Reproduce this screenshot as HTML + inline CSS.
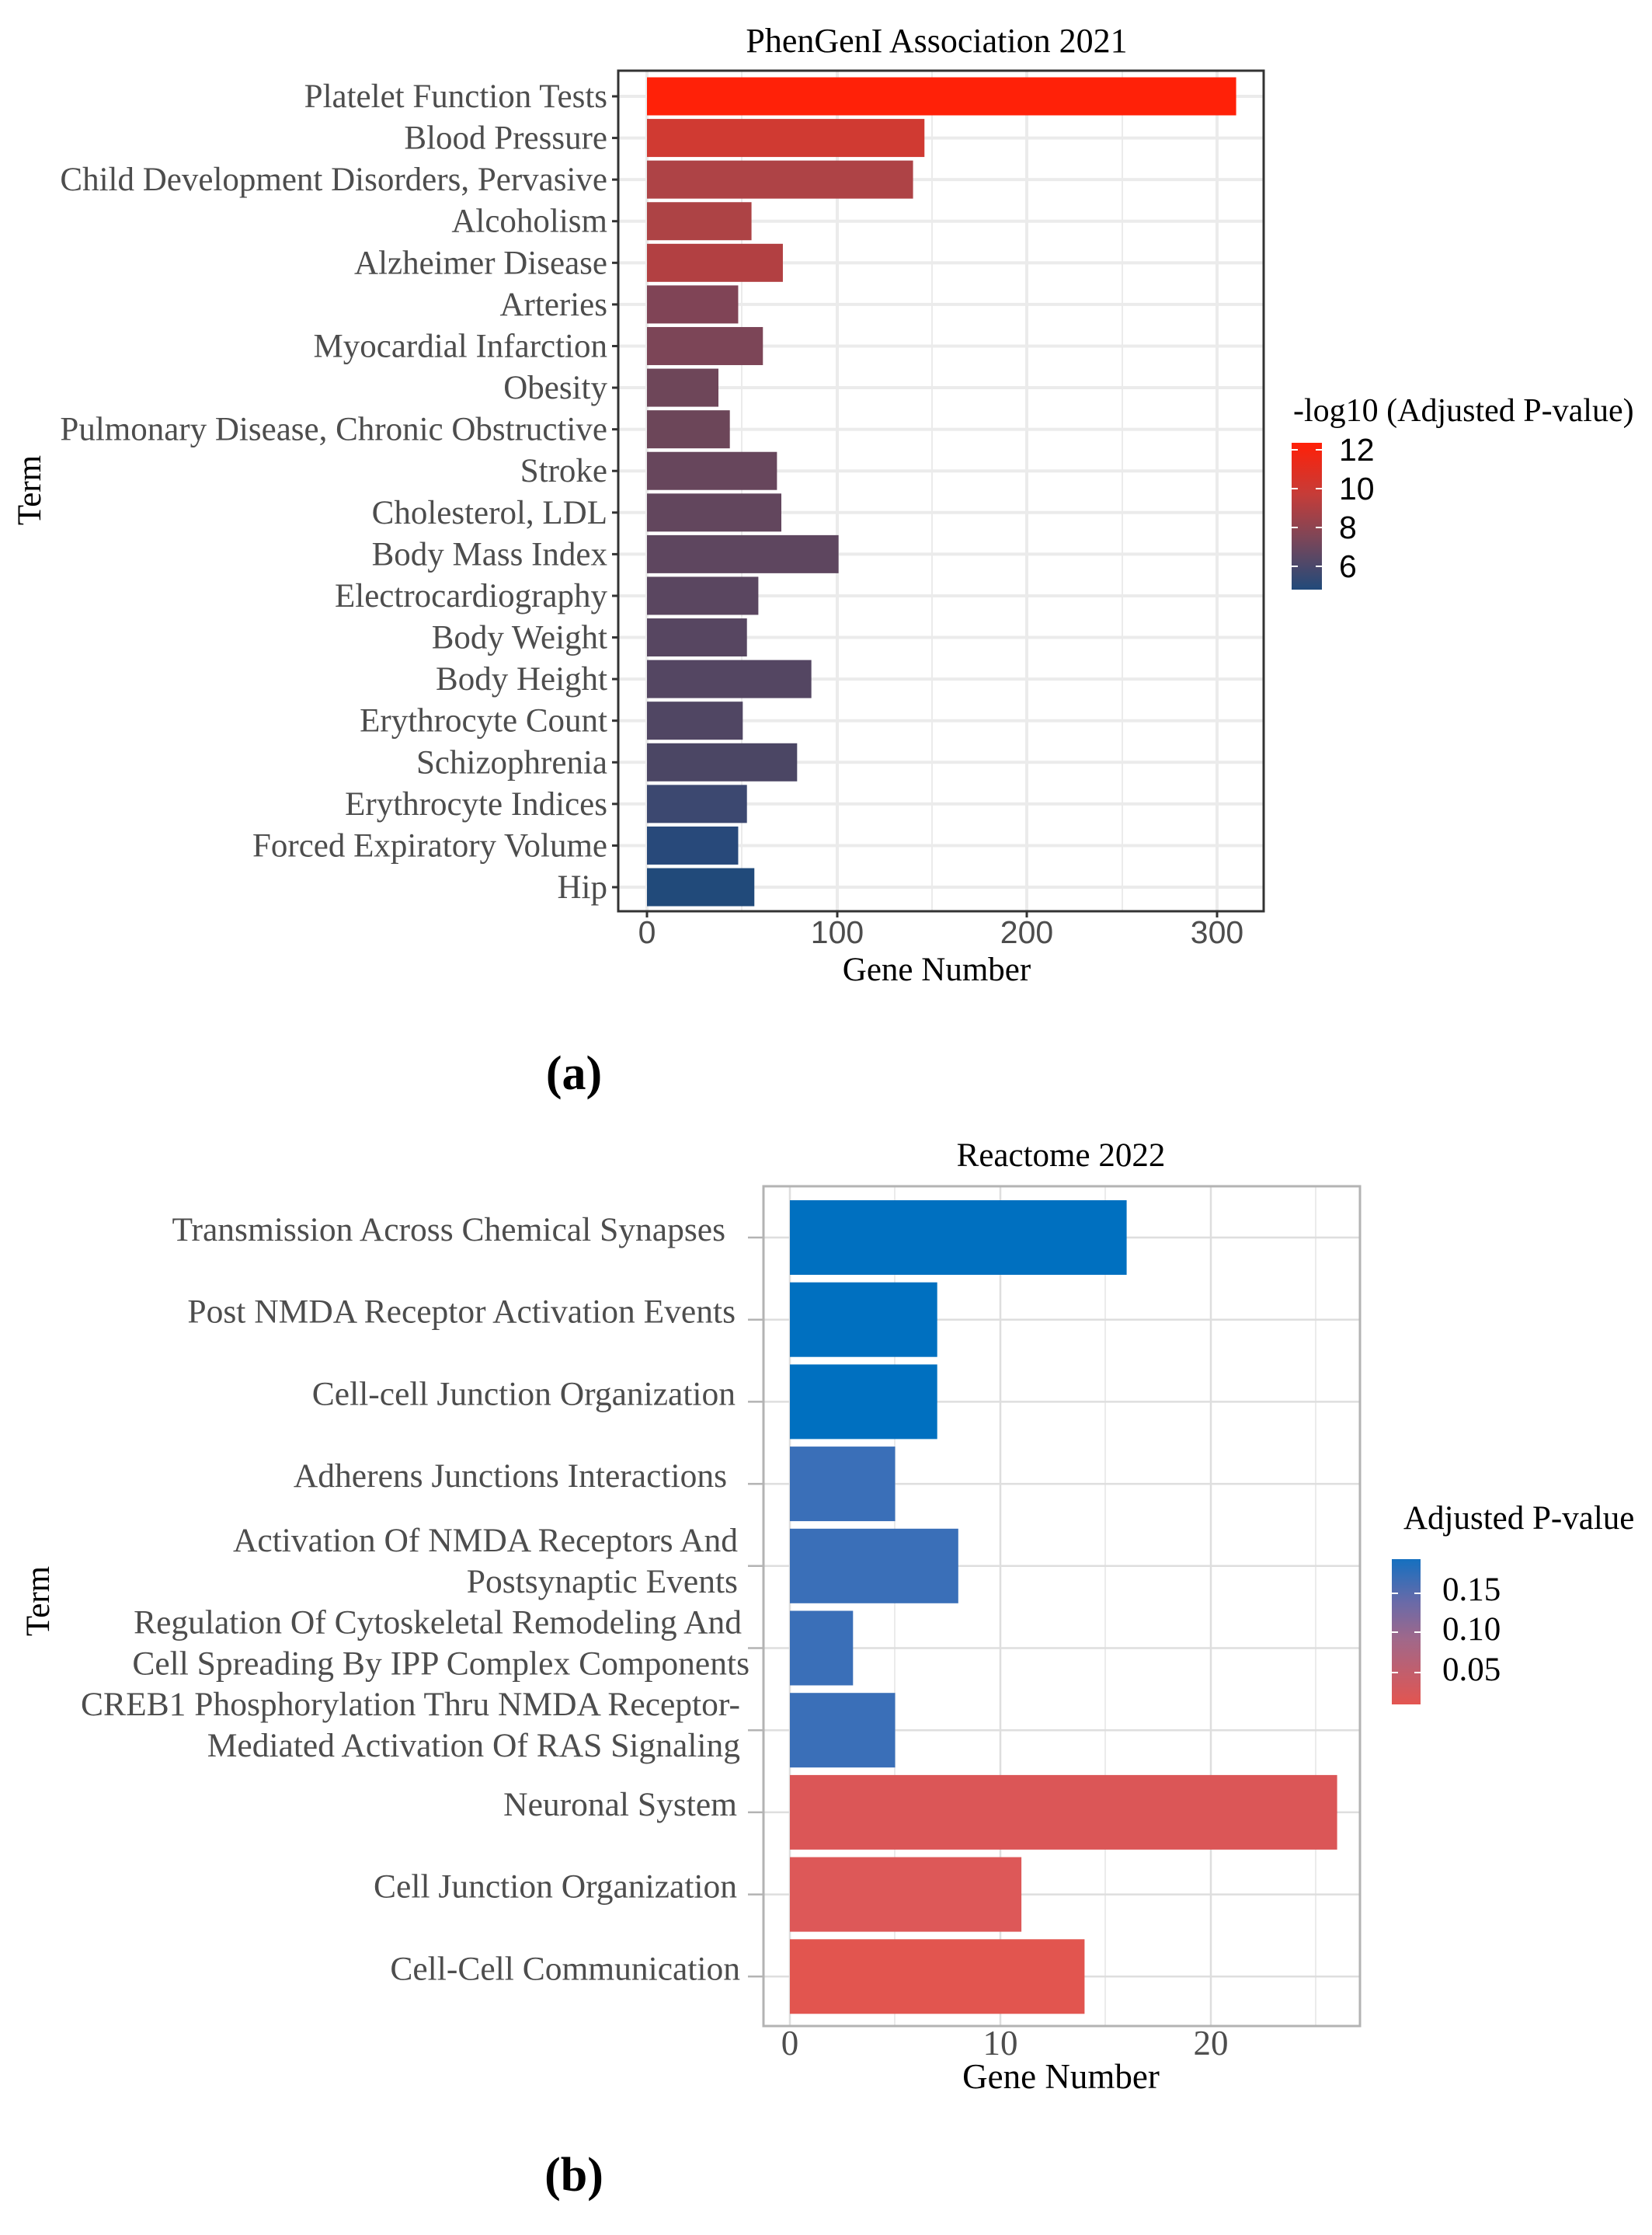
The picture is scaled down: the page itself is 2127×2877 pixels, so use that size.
<!DOCTYPE html>
<html><head><meta charset="utf-8"><style>html,body{margin:0;padding:0;background:#fff}svg{display:block}</style></head>
<body>
<svg xmlns="http://www.w3.org/2000/svg" width="2127" height="2877" viewBox="0 0 2127 2877">
<defs>
<linearGradient id="ga" x1="0" y1="0" x2="0" y2="1">
<stop offset="0" stop-color="#FF2008"/><stop offset="0.35" stop-color="#C63C38"/><stop offset="0.65" stop-color="#7C4658"/><stop offset="1" stop-color="#214A7A"/>
</linearGradient>
<linearGradient id="gb" x1="0" y1="0" x2="0" y2="1">
<stop offset="0" stop-color="#1570C0"/><stop offset="0.3" stop-color="#6A6AA8"/><stop offset="0.55" stop-color="#A0688A"/><stop offset="1" stop-color="#E35550"/>
</linearGradient>
</defs>
<g font-family="Liberation Serif, serif">
<!-- Chart A -->
<text x="1206" y="67" font-size="44" text-anchor="middle" fill="#000">PhenGenI Association 2021</text>
<rect x="796" y="91" width="831" height="1082" fill="#fff"/>
<g stroke="#EBEBEB" stroke-width="2">
<line x1="955" y1="91" x2="955" y2="1173"/><line x1="1200" y1="91" x2="1200" y2="1173"/><line x1="1445" y1="91" x2="1445" y2="1173"/>
</g>
<g stroke="#EBEBEB" stroke-width="4">
<line x1="833" y1="91" x2="833" y2="1173"/><line x1="1078" y1="91" x2="1078" y2="1173"/><line x1="1322" y1="91" x2="1322" y2="1173"/><line x1="1567" y1="91" x2="1567" y2="1173"/>
</g>
<g id="rowsA"></g>
<rect x="796" y="91" width="831" height="1082" fill="none" stroke="#333" stroke-width="3"/>
<g font-family="Liberation Sans, sans-serif" font-size="41" fill="#4D4D4D" text-anchor="middle">
<text x="833" y="1214">0</text><text x="1078" y="1214">100</text><text x="1322" y="1214">200</text><text x="1567" y="1214">300</text>
</g>
<g stroke="#333" stroke-width="3"><line x1="833" y1="1173" x2="833" y2="1181"/><line x1="1078" y1="1173" x2="1078" y2="1181"/><line x1="1322" y1="1173" x2="1322" y2="1181"/><line x1="1567" y1="1173" x2="1567" y2="1181"/></g>
<text x="1206" y="1262" font-size="43" text-anchor="middle" fill="#000">Gene Number</text>
<text transform="translate(52,631) rotate(-90)" font-size="43" text-anchor="middle" fill="#000">Term</text>
<text x="1665" y="542" font-size="42" fill="#000">-log10 (Adjusted P-value)</text>
<rect x="1663" y="570" width="39" height="189" fill="url(#ga)"/>
<g stroke="#fff" stroke-width="2"><line x1="1663" y1="579" x2="1671" y2="579"/><line x1="1694" y1="579" x2="1702" y2="579"/><line x1="1663" y1="629" x2="1671" y2="629"/><line x1="1694" y1="629" x2="1702" y2="629"/><line x1="1663" y1="679" x2="1671" y2="679"/><line x1="1694" y1="679" x2="1702" y2="679"/><line x1="1663" y1="729" x2="1671" y2="729"/><line x1="1694" y1="729" x2="1702" y2="729"/></g>
<g font-family="Liberation Sans, sans-serif" font-size="41" fill="#000">
<text x="1724" y="593">12</text><text x="1724" y="643">10</text><text x="1724" y="693">8</text><text x="1724" y="743">6</text>
</g>
<text x="739" y="1402" font-size="62" font-weight="bold" text-anchor="middle" fill="#000">(a)</text>

<!-- Chart B -->
<text x="1366" y="1501" font-size="43" text-anchor="middle" fill="#000">Reactome 2022</text>
<g stroke="#EBEBEB" stroke-width="2">
<line x1="1152" y1="1527" x2="1152" y2="2608"/><line x1="1423" y1="1527" x2="1423" y2="2608"/><line x1="1694" y1="1527" x2="1694" y2="2608"/>
</g>
<g stroke="#DEDEDE" stroke-width="2.5">
<line x1="1017" y1="1527" x2="1017" y2="2608"/><line x1="1288" y1="1527" x2="1288" y2="2608"/><line x1="1559" y1="1527" x2="1559" y2="2608"/>
</g>
<g id="rowsB"></g>
<rect x="983" y="1527" width="768" height="1081" fill="none" stroke="#B3B3B3" stroke-width="3"/>
<g font-size="45" fill="#4D4D4D" text-anchor="middle">
<text x="1017" y="2645">0</text><text x="1288" y="2645">10</text><text x="1559" y="2645">20</text>
</g>
<text x="1366" y="2688" font-size="45" text-anchor="middle" fill="#000">Gene Number</text>
<text transform="translate(63,2061) rotate(-90)" font-size="43" text-anchor="middle" fill="#000">Term</text>
<text x="1807" y="1968" font-size="43" fill="#000">Adjusted P-value</text>
<rect x="1792" y="2007" width="37" height="187" fill="url(#gb)"/>
<g stroke="#fff" stroke-width="2"><line x1="1792" y1="2051" x2="1800" y2="2051"/><line x1="1821" y1="2051" x2="1829" y2="2051"/><line x1="1792" y1="2101" x2="1800" y2="2101"/><line x1="1821" y1="2101" x2="1829" y2="2101"/><line x1="1792" y1="2153" x2="1800" y2="2153"/><line x1="1821" y1="2153" x2="1829" y2="2153"/></g>
<g font-size="43" fill="#000">
<text x="1857" y="2060">0.15</text><text x="1857" y="2111">0.10</text><text x="1857" y="2163">0.05</text>
</g>
<text x="739" y="2820" font-size="62" font-weight="bold" text-anchor="middle" fill="#000">(b)</text>
</g>
<script>
(function(){
var ns="http://www.w3.org/2000/svg",svg=document.querySelector('svg');
function el(t,a,p,txt){var e=document.createElementNS(ns,t);for(var k in a)e.setAttribute(k,a[k]);if(txt!=null)e.textContent=txt;(p||svg).appendChild(e);return e;}
var A=[["Platelet Function Tests",310,"#FF2108"],["Blood Pressure",146,"#D03A32"],["Child Development Disorders, Pervasive",140,"#AE4346"],["Alcoholism",55,"#AD4345"],["Alzheimer Disease",71.5,"#B24042"],["Arteries",48,"#804456"],["Myocardial Infarction",61,"#7C4557"],["Obesity",37.6,"#6E4659"],["Pulmonary Disease, Chronic Obstructive",43.6,"#6C4659"],["Stroke",68.4,"#67465C"],["Cholesterol, LDL",70.7,"#62465D"],["Body Mass Index",100.8,"#5E465F"],["Electrocardiography",58.6,"#5A4660"],["Body Weight",52.6,"#574661"],["Body Height",86.5,"#544662"],["Erythrocyte Count",50.4,"#504663"],["Schizophrenia",79,"#4B4664"],["Erythrocyte Indices",52.6,"#3C4870"],["Forced Expiratory Volume",48,"#28497A"],["Hip",56.5,"#214A7A"]];
var gA=document.getElementById('rowsA');
A.forEach(function(r,i){var c=124+i*53.58;
el('line',{x1:796,y1:c,x2:1627,y2:c,stroke:'#EBEBEB','stroke-width':4},gA);});
A.forEach(function(r,i){var c=124+i*53.58;
el('rect',{x:833,y:c-24.5,width:r[1]*2.447,height:49,fill:r[2]},gA);
el('line',{x1:788,y1:c,x2:796,y2:c,stroke:'#333','stroke-width':3});
el('text',{x:782,y:c+14,'font-family':'Liberation Serif, serif','font-size':43,fill:'#4D4D4D','text-anchor':'end'},null,r[0]);});
var B=[[["Transmission Across Chemical Synapses"],16,"#0070C0",934],[["Post NMDA Receptor Activation Events"],7,"#0070C0",947],[["Cell-cell Junction Organization"],7,"#0070C0",947],[["Adherens Junctions Interactions"],5,"#3A6FB8",936],[["Activation Of NMDA Receptors And","Postsynaptic Events"],8,"#3A6FB8",950],[["Regulation Of Cytoskeletal Remodeling And","Cell Spreading By IPP Complex Components"],3,"#3A6FB8",955,965],[["CREB1 Phosphorylation Thru NMDA Receptor-","Mediated Activation Of RAS Signaling"],5,"#3A6FB8",953],[["Neuronal System"],26,"#DB5657",949],[["Cell Junction Organization"],11,"#DD5858",949],[["Cell-Cell Communication"],14,"#E2554F",953]];
var gB=document.getElementById('rowsB');
B.forEach(function(r,i){var c=1593+i*105.7;
el('line',{x1:983,y1:c,x2:1751,y2:c,stroke:'#DEDEDE','stroke-width':2.5},gB);});
B.forEach(function(r,i){var c=1593+i*105.7;
el('rect',{x:1017,y:c-48,width:r[1]*27.1,height:96,fill:r[2]},gB);
el('line',{x1:963,y1:c,x2:983,y2:c,stroke:'#B3B3B3','stroke-width':2.5});
var fs=43.5;
if(r[0].length==1){el('text',{x:r[3],y:c+4,'font-family':'Liberation Serif, serif','font-size':fs,fill:'#4D4D4D','text-anchor':'end'},null,r[0][0]);}
else{el('text',{x:r[3],y:c-19,'font-family':'Liberation Serif, serif','font-size':fs,fill:'#4D4D4D','text-anchor':'end'},null,r[0][0]);
el('text',{x:r[4]||r[3],y:c+34,'font-family':'Liberation Serif, serif','font-size':fs,fill:'#4D4D4D','text-anchor':'end'},null,r[0][1]);}
});
})();
</script>
</svg>
</body></html>
